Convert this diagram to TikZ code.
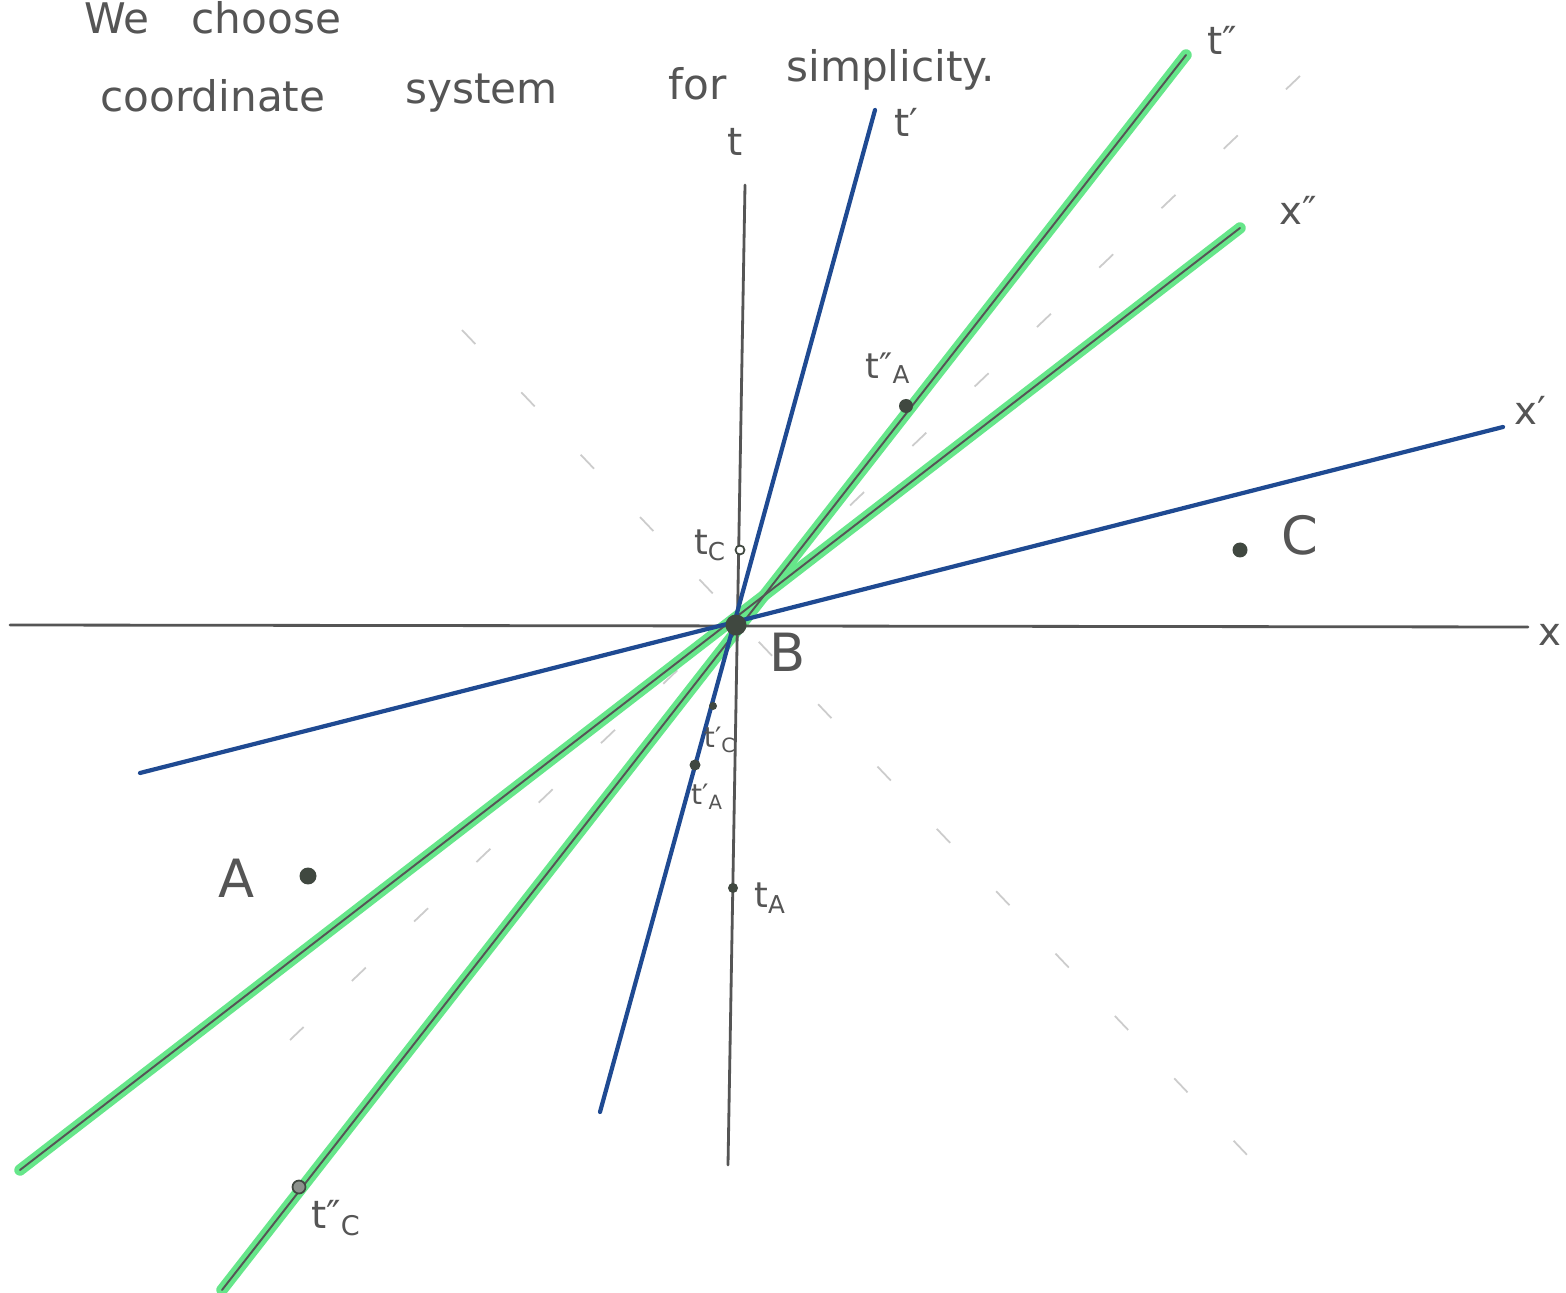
\documentclass[tikz,border=0pt]{standalone}
\usepackage{fontspec}
\setmainfont{DejaVu Sans}
\begin{document}
\begin{tikzpicture}[x=0.02cm,y=-0.02cm,
  ink/.style={draw=inkgray,line width=1.6pt,line cap=round},
  blueline/.style={draw=penblue,line width=2.4pt,line cap=round},
  hilite/.style={draw=hlgreen,line width=6.5pt,line cap=round},
  thinink/.style={draw=inkgray,line width=1.1pt,line cap=round},
  cone/.style={draw=gray!40,line width=1pt,dash pattern=on 11pt off 38pt},
  lbl/.style={text=inkgray,font=\fontsize{22}{24}\selectfont,inner sep=0pt},
  small/.style={text=inkgray,font=\fontsize{16}{18}\selectfont,inner sep=0pt},
  words/.style={text=inkgray,font=\fontsize{24}{26}\selectfont,inner sep=0pt,anchor=base west},
  dot/.style={circle,fill=dotgray,inner sep=0pt}]
\definecolor{inkgray}{HTML}{555555}
\definecolor{penblue}{HTML}{1F4A92}
\definecolor{hlgreen}{HTML}{66E68A}
\definecolor{dotgray}{HTML}{404840}
\useasboundingbox[fill=white] (0,0) rectangle (1566,1293);

% top text
\node[words] (w1) at (84,34) {We\hspace{1em}choose};
\node[words] (w2) at (100,112) {coordinate};
\node[words] (w3) at (405,104) {system};
\node[words] (w4) at (668,100) {for};
\node[words] (w5) at (786,82) {simplicity.};

% coordinates
\coordinate (O) at (736,625);
\coordinate (xL) at (10,625);
\coordinate (xR) at (1528,627);
\coordinate (tT) at (745,185);
\coordinate (tB) at (728,1165);
\coordinate (tpT) at (875,110);
\coordinate (tpB) at (600,1112);
\coordinate (xpL) at (140,773);
\coordinate (xpR) at (1503,427);
\coordinate (tppT) at (1186,55);
\coordinate (tppB) at (222,1290);
\coordinate (xppT) at (1240,228);
\coordinate (xppB) at (20,1170);
\coordinate (c1a) at (462,330);
\coordinate (c1b) at (1290,1200);
\coordinate (c2a) at (1300,76);
\coordinate (c2b) at (290,1040);

% light cone
\draw[cone] (c1a) -- (c1b);
\draw[cone] (c2a) -- (c2b);

% green highlights
\draw[hilite] (tppT) -- (tppB);
\draw[hilite] (xppT) -- (xppB);
\draw[thinink] (tppT) -- (tppB);
\draw[thinink] (xppT) -- (xppB);

% axes
\draw[ink] (xL) -- (xR);
\draw[ink] (tT) -- (tB);
\draw[blueline] (tpT) -- (tpB);
\draw[blueline] (xpL) -- (xpR);

% axis labels
\node[lbl] (lt) at (735,142) {t};
\node[lbl] (ltp) at (906,122) {t′};
\node[lbl] (ltpp) at (1222,40) {t″};
\node[lbl] (lxpp) at (1298,210) {x″};
\node[lbl] (lxp) at (1530,410) {x′};
\node[lbl] (lx) at (1550,635) {x};

% events
\node[dot,minimum size=0.42cm] (B) at (O) {};
\node[dot,minimum size=0.3cm] (C) at (1240,550) {};
\node[dot,minimum size=0.34cm] (A) at (308,876) {};
\node[lbl,font=\fontsize{30}{32}\selectfont] (lC) at (1300,535) {C};
\node[lbl,font=\fontsize{30}{32}\selectfont] (lB) at (788,652) {B};
\node[lbl,font=\fontsize{30}{32}\selectfont] (lA) at (237,878) {A};

% time marks
\node[circle,draw=dotgray,fill=white,line width=1pt,inner sep=0pt,minimum size=0.18cm] (tC) at (740,550) {};
\node[dot,minimum size=0.16cm] (tpC) at (713,706) {};
\node[dot,minimum size=0.22cm] (tpA) at (695,765) {};
\node[dot,minimum size=0.2cm] (tA) at (733,888) {};
\node[dot,minimum size=0.28cm] (tppA) at (906,406) {};
\node[circle,draw=dotgray,fill=dotgray!60,line width=1pt,inner sep=0pt,minimum size=0.26cm] (tppC) at (299,1187) {};

\node[small,font=\fontsize{20}{22}\selectfont] (ltC) at (710,545) {t\textsubscript{C}};
\node[small] (ltpC) at (720,740) {t′\textsubscript{C}};
\node[small] (ltpA) at (707,797) {t′\textsubscript{A}};
\node[small,font=\fontsize{20}{22}\selectfont] (ltA) at (770,898) {t\textsubscript{A}};
\node[small,font=\fontsize{20}{22}\selectfont] (ltppA) at (888,368) {t″\textsubscript{A}};
\node[small,font=\fontsize{22}{24}\selectfont] (ltppC) at (336,1218) {t″\textsubscript{C}};
\end{tikzpicture}
\end{document}
